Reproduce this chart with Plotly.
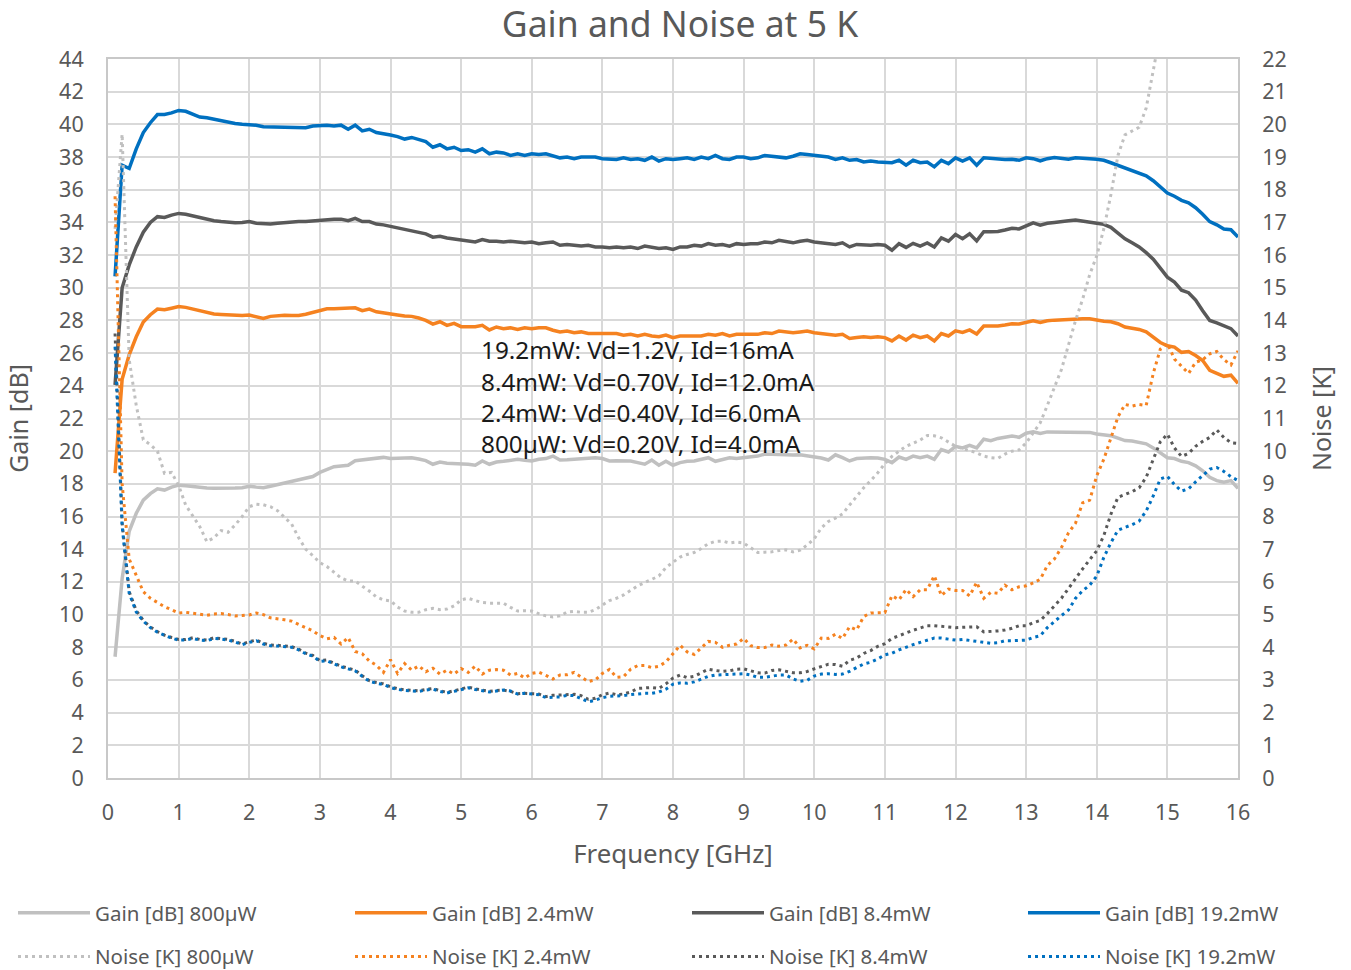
import plotly.graph_objects as go

# Frequency grid [GHz]
freq = [round(0.1 * i, 1) for i in range(1, 161)]

gain_800uW = [
    7.42, 12.2, 15.1, 16.2, 17.0, 17.4, 17.7, 17.62, 17.8, 17.92,
    17.88, 17.82, 17.76, 17.75, 17.73, 17.72, 17.72, 17.74, 17.76, 17.85,
    17.8, 17.76, 17.85, 17.95, 18.05, 18.12, 18.2, 18.3, 18.45, 18.7,
    18.9, 19.05, 19.1, 19.14, 19.42, 19.48, 19.52, 19.55, 19.62, 19.55,
    19.55, 19.58, 19.6, 19.52, 19.42, 19.2, 19.34, 19.26, 19.24, 19.24,
    19.2, 19.14, 19.4, 19.2, 19.34, 19.38, 19.45, 19.5, 19.45, 19.4,
    19.5, 19.55, 19.7, 19.46, 19.48, 19.52, 19.52, 19.56, 19.6, 19.55,
    19.4, 19.42, 19.4, 19.4, 19.3, 19.2, 19.46, 19.14, 19.38, 19.14,
    19.3, 19.38, 19.4, 19.5, 19.6, 19.38, 19.5, 19.6, 19.55, 19.6,
    19.65, 19.7, 19.83, 19.8, 19.78, 19.78, 19.76, 19.78, 19.72, 19.65,
    19.58, 19.46, 19.78, 19.6, 19.4, 19.55, 19.6, 19.6, 19.58, 19.5,
    19.3, 19.64, 19.5, 19.7, 19.6, 19.7, 19.5, 20.1, 19.95, 20.3,
    20.2, 20.35, 20.2, 20.73, 20.64, 20.78, 20.85, 20.93, 20.85, 21.1,
    21.18, 21.08, 21.18, 21.18, 21.18, 21.18, 21.18, 21.18, 21.15, 21.05,
    21.0, 20.95, 20.8, 20.65, 20.62, 20.55, 20.45, 20.2, 19.9, 19.6,
    19.55, 19.38, 19.3, 19.1, 18.8, 18.4, 18.2, 18.1, 18.2, 17.72,
]

gain_2p4mW = [
    18.65, 24.4, 25.9, 27.0, 27.9, 28.35, 28.7, 28.65, 28.75, 28.85,
    28.8, 28.7, 28.55, 28.5, 28.4, 28.37, 28.33, 28.3, 28.3, 28.33,
    28.25, 28.12, 28.25, 28.3, 28.32, 28.3, 28.3, 28.38, 28.48, 28.6,
    28.72, 28.72, 28.74, 28.72, 28.77, 28.6, 28.7, 28.53, 28.45, 28.38,
    28.33, 28.27, 28.25, 28.15, 28.0, 27.78, 27.92, 27.7, 27.82, 27.62,
    27.6, 27.62, 27.7, 27.42, 27.6, 27.5, 27.55, 27.45, 27.55, 27.5,
    27.55, 27.55, 27.4, 27.3, 27.35, 27.25, 27.3, 27.2, 27.2, 27.2,
    27.15, 27.2, 27.1, 27.15, 27.05, 27.15, 27.05, 27.0, 27.1, 26.95,
    27.05, 27.05, 27.1, 27.05, 27.15, 27.1, 27.2, 27.05, 27.15, 27.15,
    27.2, 27.15, 27.25, 27.2, 27.35, 27.3, 27.25, 27.3, 27.35, 27.25,
    27.2, 27.2, 27.1, 27.15, 26.9, 26.95, 27.0, 26.95, 27.0, 26.95,
    26.75, 27.05, 26.8, 27.1, 26.95, 27.05, 26.75, 27.2, 27.05, 27.36,
    27.27, 27.42, 27.17, 27.66, 27.66, 27.66, 27.72, 27.8, 27.78, 27.9,
    27.98, 27.88, 27.98, 28.02, 28.05, 28.07, 28.08, 28.1, 28.1, 28.0,
    27.95, 27.92, 27.8, 27.6, 27.55, 27.45, 27.3, 27.0, 26.65, 26.45,
    26.37, 26.05, 26.1, 25.85, 25.55, 24.95, 24.75, 24.58, 24.65, 24.15,
]

gain_8p4mW = [
    24.05, 30.0, 31.4, 32.5, 33.4, 34.0, 34.35, 34.3, 34.45, 34.55,
    34.5, 34.4, 34.25, 34.2, 34.1, 34.05, 34.0, 33.98, 34.0, 34.05,
    33.95, 33.9, 33.9, 33.95, 34.0, 34.0, 34.05, 34.05, 34.1, 34.15,
    34.15, 34.2, 34.2, 34.1, 34.25, 34.05, 34.05, 33.9, 33.85, 33.75,
    33.65, 33.6, 33.5, 33.4, 33.3, 33.1, 33.15, 33.05, 33.0, 32.95,
    32.9, 32.8, 32.95, 32.85, 32.85, 32.8, 32.85, 32.8, 32.75, 32.8,
    32.7, 32.75, 32.8, 32.6, 32.65, 32.6, 32.55, 32.6, 32.5, 32.5,
    32.45, 32.5, 32.45, 32.5, 32.4, 32.55, 32.45, 32.4, 32.45, 32.35,
    32.5, 32.5, 32.6, 32.55, 32.7, 32.6, 32.65, 32.55, 32.7, 32.65,
    32.7, 32.7, 32.8, 32.75, 32.9, 32.85, 32.75, 32.85, 32.9, 32.8,
    32.75, 32.75, 32.65, 32.75, 32.5, 32.65, 32.6, 32.6, 32.65, 32.6,
    32.3, 32.7, 32.47, 32.72, 32.55, 32.74, 32.5, 33.05, 32.85, 33.26,
    33.0, 33.3, 32.87, 33.43, 33.43, 33.45, 33.54, 33.64, 33.6, 33.8,
    33.97, 33.83, 33.95, 34.0, 34.07, 34.1, 34.15, 34.1, 34.05, 33.95,
    33.88, 33.7, 33.35, 33.0, 32.75, 32.5, 32.15, 31.75, 31.2, 30.65,
    30.35, 29.85, 29.7, 29.25, 28.6, 28.0, 27.85, 27.65, 27.5, 27.05,
]

gain_19p2mW = [
    30.7, 37.5, 37.3, 38.5, 39.5, 40.1, 40.6, 40.6, 40.7, 40.85,
    40.8, 40.6, 40.45, 40.4, 40.3, 40.2, 40.15, 40.05, 40.0, 40.0,
    39.95, 39.85, 39.85, 39.85, 39.85, 39.8, 39.8, 39.8, 39.9, 39.95,
    39.95, 39.9, 39.95, 39.7, 39.95, 39.6, 39.7, 39.5, 39.45, 39.35,
    39.25, 39.1, 39.2, 39.05, 38.95, 38.6, 38.75, 38.5, 38.6, 38.4,
    38.45, 38.3, 38.5, 38.2, 38.3, 38.25, 38.1, 38.2, 38.1, 38.2,
    38.15, 38.2, 38.1, 37.95, 38.0, 37.9, 38.0, 38.0, 38.0, 37.9,
    37.9, 37.85, 37.95, 37.85, 37.9, 37.8, 38.0, 37.75, 37.9, 37.85,
    37.9, 37.95, 37.85, 38.0, 37.9, 38.1, 37.9, 37.85, 38.0, 38.0,
    37.9, 37.95, 38.1, 38.05, 38.0, 37.95, 38.05, 38.2, 38.15, 38.1,
    38.0, 38.0, 37.85, 37.95, 37.8, 37.85, 37.7, 37.75, 37.7, 37.7,
    37.65, 37.8, 37.5, 37.8, 37.65, 37.7, 37.4, 37.8, 37.6, 37.95,
    37.75, 37.95, 37.5, 37.95, 37.9, 37.85, 37.85, 37.87, 37.8, 37.95,
    37.9, 37.77, 37.9, 37.97, 37.92, 37.87, 37.95, 37.95, 37.9, 37.87,
    37.8, 37.65, 37.5, 37.3, 37.2, 37.05, 36.85, 36.55, 36.2, 35.8,
    35.6, 35.35, 35.2, 34.9, 34.5, 34.05, 33.85, 33.6, 33.55, 33.1,
]

# Noise values [K]; the 800 uW series leaves the chart above 22 K near 14.8 GHz
noise_800uW = [
    16.8, 19.7, 12.8, 11.4, 10.35, 10.2, 10.0, 9.32, 9.35, 8.95,
    8.35, 8.0, 7.69, 7.23, 7.35, 7.57, 7.52, 7.74, 8.0, 8.3,
    8.38, 8.36, 8.3, 8.18, 7.97, 7.77, 7.35, 7.0, 6.8, 6.59,
    6.47, 6.3, 6.12, 6.03, 6.03, 5.87, 5.72, 5.54, 5.45, 5.42,
    5.23, 5.11, 5.07, 5.07, 5.15, 5.19, 5.15, 5.17, 5.27, 5.45,
    5.5, 5.43, 5.37, 5.35, 5.35, 5.35, 5.22, 5.11, 5.12, 5.11,
    5.03, 4.96, 4.93, 4.96, 5.08, 5.1, 5.07, 5.07, 5.15, 5.28,
    5.43, 5.5, 5.6, 5.74, 5.88, 5.98, 6.09, 6.18, 6.44, 6.6,
    6.76, 6.84, 6.9, 7.02, 7.17, 7.24, 7.25, 7.19, 7.22, 7.19,
    7.05, 6.9, 6.91, 6.92, 6.96, 6.98, 6.92, 6.97, 7.13, 7.32,
    7.65, 7.85, 7.95, 8.08, 8.35, 8.62, 8.88, 9.1, 9.34, 9.62,
    9.84, 10.0, 10.15, 10.24, 10.34, 10.48, 10.47, 10.41, 10.27, 10.15,
    10.08, 10.02, 9.95, 9.85, 9.8, 9.78, 9.91, 10.0, 10.04, 10.25,
    10.55, 10.87, 11.4, 11.98, 12.5, 13.25, 14.0, 14.65, 15.4, 15.98,
    16.8, 17.85, 19.05, 19.68, 19.8, 19.91, 20.5, 21.6, 22.8,
]

noise_2p4mW = [
    17.8, 9.0, 6.7, 6.2, 5.7, 5.5, 5.38, 5.24, 5.15, 5.05,
    5.07, 5.04, 5.03, 4.98, 5.02, 5.03, 5.0, 4.96, 4.97, 4.99,
    5.05, 5.0, 4.9, 4.88, 4.84, 4.8, 4.7, 4.58, 4.5, 4.36,
    4.26, 4.3, 4.1, 4.3, 3.87, 3.8, 3.58, 3.45, 3.23, 3.62,
    3.2, 3.5, 3.3, 3.43, 3.25, 3.36, 3.18, 3.3, 3.18, 3.35,
    3.23, 3.42, 3.18, 3.3, 3.32, 3.3, 3.15, 3.2, 3.06, 3.2,
    3.24, 3.14, 3.03, 3.15, 3.16, 3.23, 3.1, 2.95, 3.0, 3.2,
    3.32, 3.08, 3.1, 3.33, 3.44, 3.44, 3.38, 3.42, 3.55, 3.8,
    4.06, 3.86, 3.78, 3.98, 4.18, 4.15, 4.0, 4.06, 4.1, 4.27,
    4.05, 3.99, 3.99, 4.07, 4.03, 4.07, 4.25, 3.98, 4.06, 3.95,
    4.28, 4.27, 4.4, 4.27, 4.63, 4.53, 4.94, 5.05, 5.05, 5.06,
    5.58, 5.45, 5.77, 5.55, 5.76, 5.76, 6.19, 5.58, 5.78, 5.74,
    5.74, 5.57, 5.99, 5.5, 5.68, 5.65, 5.9, 5.76, 5.85, 5.88,
    5.97, 6.08, 6.5, 6.7, 7.05, 7.5, 7.8, 8.42, 8.5, 9.25,
    9.75, 10.42, 11.05, 11.43, 11.38, 11.43, 11.4, 12.38, 13.12, 13.3,
    12.82, 12.6, 12.38, 12.72, 12.8, 12.98, 13.05, 12.8, 12.64, 13.07,
]

noise_8p4mW = [
    13.6, 7.8, 5.7, 5.12, 4.82, 4.62, 4.48, 4.37, 4.3, 4.24,
    4.24, 4.29, 4.24, 4.22, 4.29, 4.27, 4.24, 4.18, 4.1, 4.17,
    4.22, 4.12, 4.07, 4.06, 4.04, 4.02, 3.94, 3.82, 3.75, 3.59,
    3.61, 3.52, 3.42, 3.36, 3.3, 3.13, 2.98, 2.92, 2.88, 2.79,
    2.73, 2.7, 2.69, 2.67, 2.71, 2.74, 2.67, 2.62, 2.67, 2.72,
    2.78, 2.73, 2.69, 2.65, 2.68, 2.69, 2.65, 2.58, 2.59, 2.59,
    2.57, 2.49, 2.53, 2.54, 2.55, 2.56, 2.52, 2.41, 2.44, 2.55,
    2.6, 2.55, 2.57, 2.63, 2.74, 2.76, 2.77, 2.74, 2.88, 3.06,
    3.15, 3.07, 3.11, 3.22, 3.33, 3.29, 3.26, 3.28, 3.33, 3.34,
    3.28, 3.22, 3.21, 3.29, 3.31, 3.27, 3.22, 3.22, 3.26, 3.34,
    3.4, 3.48, 3.47, 3.42, 3.6, 3.67, 3.81, 3.9, 4.03, 4.11,
    4.27, 4.36, 4.45, 4.52, 4.59, 4.66, 4.66, 4.65, 4.62, 4.6,
    4.61, 4.63, 4.63, 4.47, 4.48, 4.5, 4.53, 4.58, 4.66, 4.66,
    4.75, 4.82, 5.03, 5.28, 5.5, 5.8, 6.12, 6.4, 6.68, 6.95,
    7.42, 8.07, 8.59, 8.68, 8.76, 8.88, 9.2, 9.75, 10.29, 10.52,
    10.1, 9.84, 9.93, 10.15, 10.3, 10.42, 10.65, 10.42, 10.26, 10.24,
]

noise_19p2mW = [
    13.2, 7.7, 5.65, 5.08, 4.8, 4.6, 4.46, 4.36, 4.28, 4.22,
    4.22, 4.27, 4.22, 4.2, 4.27, 4.25, 4.22, 4.16, 4.08, 4.15,
    4.2, 4.1, 4.05, 4.04, 4.02, 4.0, 3.92, 3.8, 3.73, 3.57,
    3.59, 3.5, 3.4, 3.34, 3.28, 3.11, 2.96, 2.9, 2.86, 2.77,
    2.71, 2.68, 2.67, 2.65, 2.69, 2.72, 2.65, 2.6, 2.65, 2.7,
    2.76, 2.71, 2.67, 2.63, 2.66, 2.69, 2.66, 2.57, 2.59, 2.58,
    2.55, 2.46, 2.46, 2.48, 2.53, 2.52, 2.43, 2.33, 2.38, 2.46,
    2.5, 2.5, 2.52, 2.55, 2.58, 2.59, 2.59, 2.63, 2.72, 2.87,
    2.91, 2.9, 2.94, 3.03, 3.11, 3.15, 3.15, 3.17, 3.18, 3.19,
    3.15, 3.08, 3.08, 3.12, 3.15, 3.15, 3.03, 2.96, 2.99, 3.12,
    3.18, 3.19, 3.17, 3.18, 3.26, 3.38, 3.49, 3.54, 3.64, 3.77,
    3.82, 3.92, 4.01, 4.08, 4.15, 4.22, 4.28, 4.28, 4.24, 4.22,
    4.24, 4.21, 4.19, 4.16, 4.12, 4.14, 4.2, 4.2, 4.2, 4.22,
    4.3, 4.35, 4.6, 4.8, 4.97, 5.14, 5.5, 5.73, 5.9, 6.18,
    6.75, 7.2, 7.58, 7.67, 7.75, 7.86, 8.17, 8.63, 9.15, 9.23,
    8.98, 8.78, 8.85, 9.06, 9.26, 9.45, 9.5, 9.38, 9.22, 9.1,
]

labels = ["800\u00b5W", "2.4mW", "8.4mW", "19.2mW"]
colors = ["#C0C0C0", "#F58220", "#595959", "#0070C0"]
gains = [gain_800uW, gain_2p4mW, gain_8p4mW, gain_19p2mW]
noises = [noise_800uW, noise_2p4mW, noise_8p4mW, noise_19p2mW]

bias_notes = [
    "19.2mW: Vd=1.2V, Id=16mA",
    "8.4mW: Vd=0.70V, Id=12.0mA",
    "2.4mW: Vd=0.40V, Id=6.0mA",
    "800\u00b5W: Vd=0.20V, Id=4.0mA",
]

FONT = "Noto Sans"
TXT = "#595959"

# the page body margin is removed below, so figure pixels match the window
W, H = 1351, 970
L, R, T, B = 108, 1238, 59, 778
PW, PH = R - L, B - T

legend_ids = ["legend", "legend2", "legend3", "legend4"]
legend_left_px = [13, 350, 687, 1023]

fig = go.Figure()
for i, (lab, col, g, n) in enumerate(zip(labels, colors, gains, noises)):
    fig.add_trace(go.Scatter(
        x=freq[:len(g)], y=g, mode="lines", name=f"Gain [dB] {lab}",
        line=dict(color=col, width=3.5), yaxis="y",
        legend=legend_ids[i], legendgroup=f"g{i}",
    ))
    fig.add_trace(go.Scatter(
        x=freq[:len(n)], y=n, mode="lines", name=f"Noise [K] {lab}",
        line=dict(color=col, width=3, dash="3px,4px"), yaxis="y2",
        legend=legend_ids[i], legendgroup=f"n{i}",
    ))

for i, note in enumerate(bias_notes):
    ypx = 350 + i * 31.3
    fig.add_annotation(
        text=note, xref="paper", yref="paper",
        x=(479 - L) / PW, y=(B - ypx) / PH,
        xanchor="left", yanchor="middle", showarrow=False,
        font=dict(family=FONT, size=24.3, color="#1a1a1a"),
    )

axis_common = dict(
    showline=True, linecolor="#C8C8C8", linewidth=2,
    tickfont=dict(family=FONT, size=21.5, color=TXT),
    ticks="outside", tickcolor="rgba(0,0,0,0)",
    zeroline=False, automargin=False,
)

legend_layouts = {}
for lid, lpx in zip(legend_ids, legend_left_px):
    legend_layouts[lid] = dict(
        orientation="v", x=(lpx - L) / PW, y=(B - 893) / PH,
        xanchor="left", yanchor="top", itemwidth=72,
        font=dict(family=FONT, size=20.5, color=TXT),
        bgcolor="rgba(0,0,0,0)", tracegroupgap=14, traceorder="grouped",
    )

fig.update_layout(
    width=W, height=H,
    margin=dict(l=L, r=W - R, t=T, b=H - B, autoexpand=False),
    paper_bgcolor="white", plot_bgcolor="white",
    title=dict(text="Gain and Noise at 5 K", x=680 / W, xanchor="center",
               y=1 - 25 / H, yanchor="middle",
               font=dict(family=FONT, size=35.5, color=TXT)),
    font=dict(family=FONT, color=TXT),
    xaxis=dict(range=[0, 16], dtick=1, showgrid=True, gridcolor="#D9D9D9", gridwidth=1.5,
               mirror=True, ticklen=14,
               title=dict(text="Frequency [GHz]", font=dict(family=FONT, size=25.8, color=TXT), standoff=20),
               **axis_common),
    yaxis=dict(range=[0, 44], dtick=2, showgrid=True, gridcolor="#D9D9D9", gridwidth=1.5,
               ticklen=18,
               title=dict(text="Gain [dB]", font=dict(family=FONT, size=25, color=TXT), standoff=23),
               **axis_common),
    yaxis2=dict(range=[0, 22], dtick=1, overlaying="y", side="right", showgrid=False,
                ticklen=18,
                title=dict(text="Noise [K]", font=dict(family=FONT, size=25, color=TXT), standoff=28),
                **axis_common),
    showlegend=True,
    **legend_layouts,
)

fig.write_html(
    "out.html",
    config={"displayModeBar": False},
    post_script="document.body.style.margin='0';document.body.style.overflow='hidden';",
)
